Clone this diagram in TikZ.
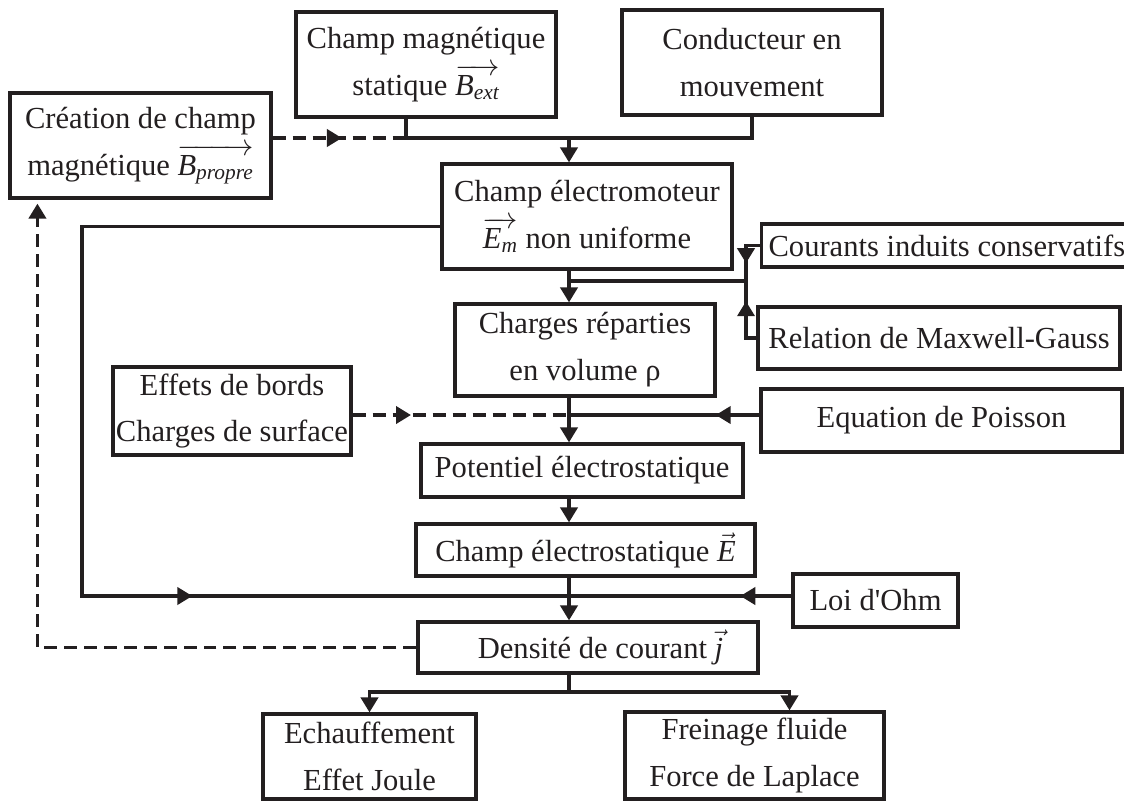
\documentclass[tikz,border=0pt]{standalone}
\usepackage{fontspec}
\setmainfont{Liberation Serif}
\usepackage{amsmath}
\usetikzlibrary{arrows.meta,calc,decorations.markings}
\definecolor{inddark}{RGB}{35,31,32}
\newcommand{\fieldvec}[2]{\ensuremath{\overrightarrow{\textit{#1}_{\textit{#2}}}}}
\tikzset{
  indbox/.style={
    draw=inddark,
    line width=1.8pt,
    align=center,
    text=inddark,
    inner sep=1pt,
    font=\fontsize{17.4}{26.7}\selectfont
  },
  indline/.style={color=inddark, line width=2.2pt},
  indarrow/.style={indline, -{Triangle[length=0.3cm,width=0.34cm]}},
  inddash/.style={indline, dash pattern=on 0.26cm off 0.14cm},
  midtip/.style={postaction={decorate},
    decoration={markings, mark=at position #1 with {\arrow{Triangle[length=0.3cm,width=0.34cm]}}}}
}
\begin{document}
\begin{tikzpicture}[x=0.02cm, y=-0.02cm]
  \useasboundingbox (0,0) rectangle (1124,802);
  % sources
  \node[indbox, minimum width=5.2cm, minimum height=2.1cm] (bext) at (426,64.5) {Champ magnétique\\statique \fieldvec{B}{ext}};
  \node[indbox, minimum width=5.2cm, minimum height=2.1cm] (cond) at (752,62.5) {Conducteur en\\mouvement};
  \node[indbox, minimum width=5.22cm, minimum height=2.1cm] (cre) at (140.5,145.5) {Création de champ\\magnétique \fieldvec{B}{propre}};
  % central column
  \node[indbox, minimum width=5.8cm, minimum height=2.1cm] (em) at (587,216.5) {Champ électromoteur\\\fieldvec{E}{m} non uniforme};
  \node[indbox, minimum width=5.2cm, minimum height=1.84cm] (ch) at (585,350) {Charges réparties\\en volume ρ};
  \node[indbox, minimum width=6.44cm, minimum height=1.06cm] (pot) at (582,470.5) {Potentiel électrostatique};
  \node[indbox, minimum width=6.78cm, minimum height=1.04cm] (el) at (585.5,550) {Champ électrostatique $\vec{\textit{E}}$};
  \node[indbox, minimum width=6.8cm, minimum height=1.02cm] (j) at (588,647.5) {\hspace*{0.5cm}Densité de courant $\vec{\textit{j}}$};
  % side boxes
  \node[indbox, anchor=west, inner xsep=0.14cm, minimum height=0.86cm] (cour) at (760,245.5) {Courants induits conservatifs};
  \node[indbox, minimum width=7.24cm, minimum height=1.24cm] (maxw) at (939,338) {Relation de Maxwell-Gauss};
  \node[indbox, minimum width=4.76cm, minimum height=1.76cm] (eff) at (232,411) {Effets de bords\\Charges de surface};
  \node[indbox, minimum width=7.22cm, minimum height=1.26cm] (pois) at (941.5,420.5) {Equation de Poisson};
  \node[indbox, minimum width=3.3cm, minimum height=1.06cm] (ohm) at (875.5,600.5) {Loi d\textquotesingle Ohm};
  % consequences
  \node[indbox, minimum width=4.26cm, minimum height=1.7cm] (ech) at (369.5,756.5) {Echauffement\\Effet Joule};
  \node[indbox, minimum width=5.18cm, minimum height=1.74cm] (fre) at (754.5,755.5) {Freinage fluide\\Force de Laplace};

  \coordinate (spine) at (569,0);
  \coordinate (top) at (569,138);
  \coordinate (bfoot) at ($(bext.south)+(-20,0)$);
  \coordinate (emrow) at (746,281);
  \coordinate (poisrow) at (569,415);
  \coordinate (ohmrow) at (569,596);
  \coordinate (leftx) at (82,0);
  \coordinate (outrow) at (569,692);

  \draw[indline] (bfoot) |- (top) -| (cond.south);
  \draw[indarrow] (top) -- (em.north -| spine);
  \draw[inddash, midtip=0.52] (cre.east |- top) -- (bfoot |- top);

  \draw[indarrow] (em.south -| spine) -- (ch.north -| spine);
  \draw[indline] (emrow) -- (emrow -| spine);
  \draw[indline, midtip=0.64] (cour.west) -| (emrow);
  \draw[indline, midtip=0.70] (maxw.west) -| (emrow);

  \draw[indarrow] (ch.south -| spine) -- (pot.north -| spine);
  \draw[indline, midtip=0.23] (pois.west |- poisrow) -- (poisrow);
  \draw[inddash, midtip=0.27] (eff.east |- poisrow) -- (poisrow);
  \draw[indarrow] (pot.south -| spine) -- (el.north -| spine);

  \draw[indline, midtip=0.69] ($(em.west)+(0,10)$) -| (leftx |- ohmrow) -- (ohmrow);
  \draw[indline, midtip=0.23] (ohm.west |- ohmrow) -- (ohmrow);
  \draw[indarrow] (el.south -| spine) -- (j.north -| spine);

  \draw[inddash, -{Triangle[length=0.3cm,width=0.34cm]}, shorten >=0.08cm] (j.west) -| ($(cre.south west)+(29,0)$);

  \draw[indline] (j.south -| spine) -- (outrow);
  \draw[indarrow] (outrow) -| (ech.north);
  \draw[indarrow] (outrow) -| ($(fre.north)+(35,0)$);
\end{tikzpicture}
\end{document}
